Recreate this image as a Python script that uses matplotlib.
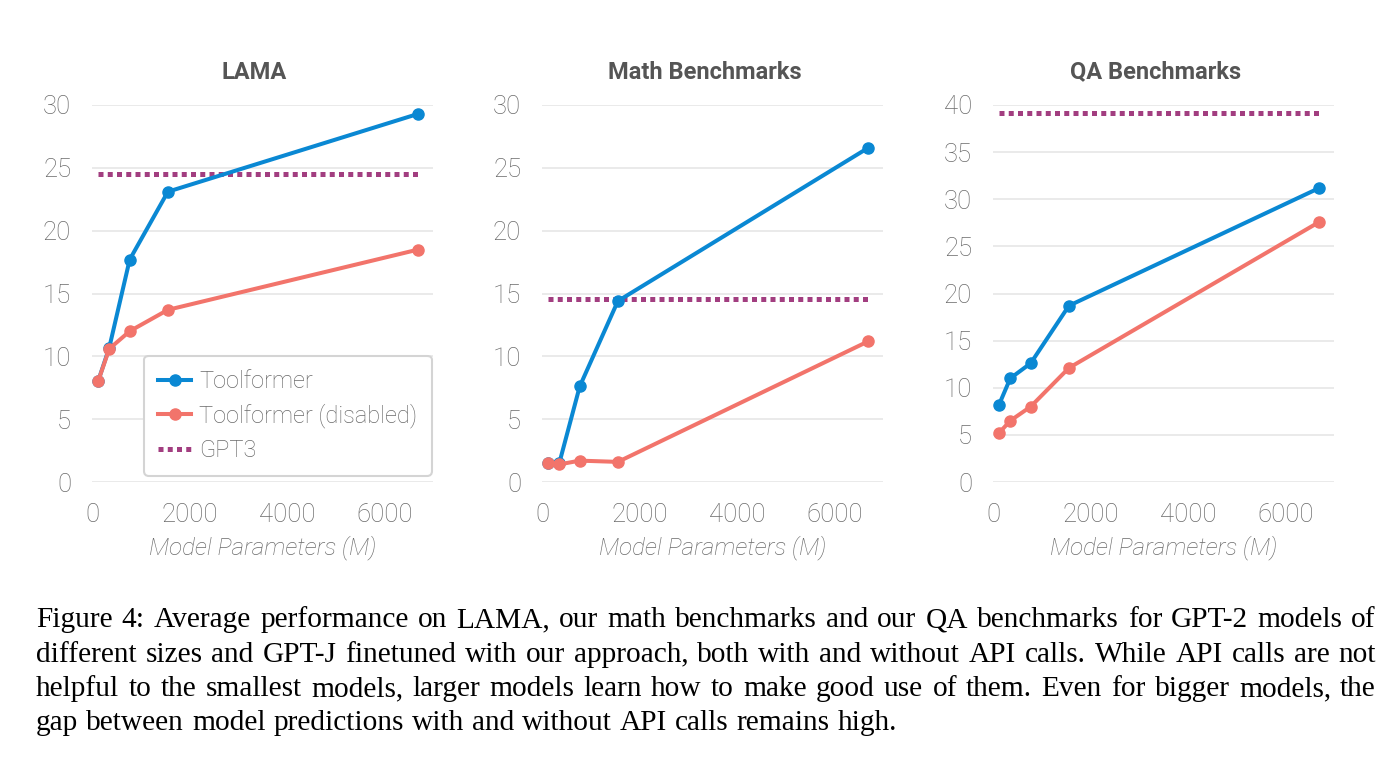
import matplotlib

matplotlib.use("Agg")
import matplotlib.pyplot as plt

# model sizes (M params): GPT-2 small/medium/large/xl, GPT-J
model_sizes = [124, 355, 774, 1558, 6700]

panel_titles = ["LAMA", "Math Benchmarks", "QA Benchmarks"]

toolformer = [
    [8.0, 10.7, 17.7, 23.1, 29.3],
    [1.5, 1.5, 7.6, 14.4, 26.6],
    [8.2, 11.0, 12.6, 18.7, 31.2],
]
toolformer_disabled = [
    [8.0, 10.6, 12.0, 13.7, 18.5],
    [1.5, 1.4, 1.7, 1.6, 11.2],
    [5.2, 6.5, 8.0, 12.1, 27.6],
]
gpt3 = [24.5, 14.6, 39.2]

y_max = [30, 30, 40]
y_step = [5, 5, 5]
x_ticks = [0, 2000, 4000, 6000]

caption_lines = [
    "Figure 4:  Average performance on LAMA, our math benchmarks and our QA benchmarks for GPT-2 models of",
    "different sizes and GPT-J finetuned with our approach, both with and without API calls. While API calls are not",
    "helpful to the smallest models, larger models learn how to make good use of them. Even for bigger models, the",
    "gap between model predictions with and without API calls remains high.",
]

BLUE = "#0A88D3"
SALMON = "#F2746B"
PURPLE = "#A23E80"
TICK_GRAY = "#6a6a6a"
TITLE_GRAY = "#555555"

W, H = 1394, 773
fig = plt.figure(figsize=(W / 100, H / 100), dpi=100)
fig.patch.set_facecolor("white")

plt.rcParams["font.family"] = ["Roboto", "DejaVu Sans"]

axes_left_px = [92, 542, 993]
axes_w_px = 341
axes_top_px = 105
axes_bottom_px = 482

for i, title in enumerate(panel_titles):
    ax = fig.add_axes([
        axes_left_px[i] / W,
        1 - axes_bottom_px / H,
        axes_w_px / W,
        (axes_bottom_px - axes_top_px) / H,
    ])
    ax.plot(model_sizes, toolformer[i], color=BLUE, lw=2.9, marker="o",
            markersize=8, label="Toolformer", zorder=4)
    ax.plot(model_sizes, toolformer_disabled[i], color=SALMON, lw=2.9, marker="o",
            markersize=8, label="Toolformer (disabled)", zorder=5)
    ax.plot([model_sizes[0], model_sizes[-1]], [gpt3[i], gpt3[i]], color=PURPLE,
            lw=3.6, linestyle=(0, (1, 0.85)), dash_capstyle="butt",
            label="GPT3", zorder=3)

    ax.set_xlim(0, 7000)
    ax.set_ylim(0, y_max[i])
    ax.set_xticks(x_ticks)
    ax.set_yticks(range(0, y_max[i] + 1, y_step[i]))
    ax.grid(axis="y", color="#e4e4e4", lw=1.1)
    ax.set_axisbelow(True)
    for s in ax.spines.values():
        s.set_visible(False)
    ax.tick_params(length=0, pad=15, labelsize=18.5, labelcolor=TICK_GRAY)
    for lbl in ax.get_xticklabels() + ax.get_yticklabels():
        lbl.set_fontweight("light")

    ax.set_title(title, fontsize=17, fontweight="bold", color=TITLE_GRAY, pad=19,
                 x=0.5 - 8 / axes_w_px)
    ax.set_xlabel("Model Parameters (M)", fontsize=17.5, style="italic",
                  fontweight="light", color=TICK_GRAY, labelpad=6)

    if i == 0:
        leg = ax.legend(loc="lower left", bbox_to_anchor=(0.152, 0.016),
                        borderaxespad=0, fontsize=17, handlelength=1.4,
                        handletextpad=0.35, labelspacing=0.45, borderpad=0.6,
                        fancybox=True, framealpha=1, edgecolor="#d4d4d4")
        leg.get_frame().set_linewidth(1.5)
        for t in leg.get_texts():
            t.set_color(TICK_GRAY)
            t.set_fontweight("light")

# caption, justified like the paper text
cap_left, cap_right = 36, 1376
cap_size = 21.2
baselines = [627, 661.5, 696, 730]
renderer = fig.canvas.get_renderer()
for n, line in enumerate(caption_lines):
    words = line.split(" ")
    words = [w for w in words if w]
    texts = []
    for w in words:
        t = fig.text(0, 1 - baselines[n] / H, w, fontsize=cap_size,
                     family="Liberation Serif", va="baseline", ha="left", color="black")
        texts.append(t)
    widths = [t.get_window_extent(renderer).width for t in texts]
    if n < len(caption_lines) - 1:
        gap = (cap_right - cap_left - sum(widths)) / (len(words) - 1)
    else:
        gap = 0.27 * cap_size * 100 / 72
    x = cap_left
    for t, w in zip(texts, widths):
        t.set_x(x / W)
        x += w + gap

fig.savefig("out.png", dpi=100, facecolor="white")
